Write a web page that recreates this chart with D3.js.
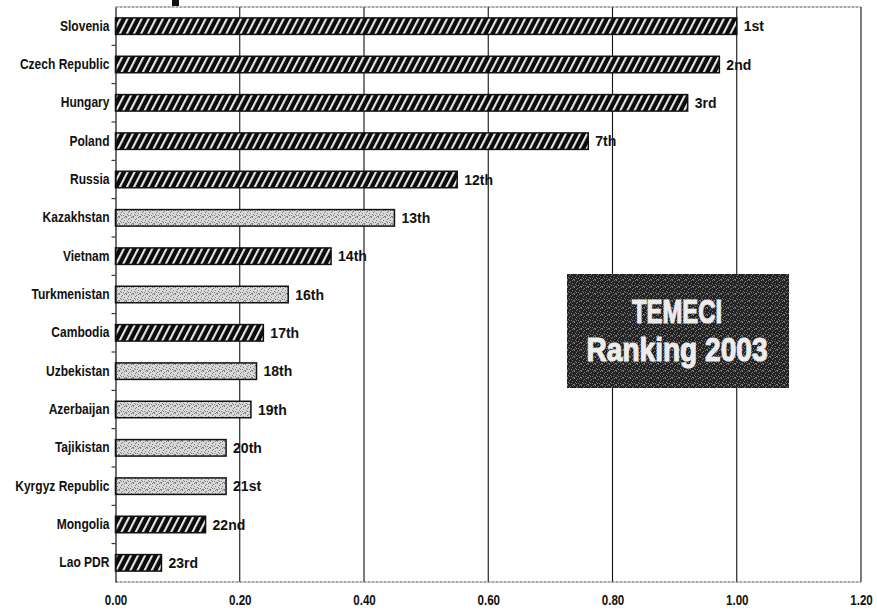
<!DOCTYPE html>
<html>
<head>
<meta charset="utf-8">
<script src="https://cdn.jsdelivr.net/npm/d3@7"></script>
<style>
  html, body { margin: 0; padding: 0; background: #fff; }
  svg { display: block; }
  .cat text { font-family: "Liberation Sans", Arial, sans-serif; font-weight: bold; font-size: 14px; fill: #111; }
  .xaxis text { font-family: "Liberation Sans", Arial, sans-serif; font-weight: bold; font-size: 14.5px; fill: #111; }
  .rank { font-family: "Liberation Sans", Arial, sans-serif; font-weight: bold; font-size: 14px; fill: #111; }
  .badge { font-family: "Liberation Sans", Arial, sans-serif; font-weight: bold; fill: #ececec; stroke: #ececec; stroke-width: 1.2px; }
</style>
</head>
<body>
<svg id="chart" width="877" height="611"></svg>
<script>
// Countries, index scores and ranking labels (TEMECI 2003)
const countries = ["Slovenia", "Czech Republic", "Hungary", "Poland", "Russia", "Kazakhstan",
  "Vietnam", "Turkmenistan", "Cambodia", "Uzbekistan", "Azerbaijan", "Tajikistan",
  "Kyrgyz Republic", "Mongolia", "Lao PDR"];
const scores = [1.00, 0.972, 0.921, 0.761, 0.550, 0.449, 0.347, 0.278, 0.238, 0.227, 0.218,
  0.178, 0.178, 0.145, 0.074];
const ranks = ["1st", "2nd", "3rd", "7th", "12th", "13th", "14th", "16th", "17th", "18th",
  "19th", "20th", "21st", "22nd", "23rd"];
// "h" = hatched (reform group), "s" = stippled (CIS group)
const groups = ["h", "h", "h", "h", "h", "s", "h", "s", "h", "s", "s", "s", "s", "h", "h"];
const xTicks = [0, 0.2, 0.4, 0.6, 0.8, 1.0, 1.2];
const badgeLines = ["TEMECI", "Ranking 2003"];

const rows = countries.map((c, i) => ({ country: c, score: scores[i], rank: ranks[i], group: groups[i] }));

const svg = d3.select("#chart");
const plot = { left: 115.5, right: 861, top: 7, bottom: 582 };

const x = d3.scaleLinear().domain([0, 1.2]).range([plot.left, plot.right]);
const y = d3.scaleBand().domain(countries).range([plot.top, plot.bottom]).paddingInner(0.57).paddingOuter(0.285);

// ---- fill patterns ----
const defs = svg.append("defs");

const hatch = defs.append("pattern").attr("id", "hatch")
  .attr("patternUnits", "userSpaceOnUse").attr("width", 7.1).attr("height", 20)
  .attr("patternTransform", "skewX(-27)");
hatch.append("rect").attr("width", 7.1).attr("height", 20).attr("fill", "#0c0c0c");
hatch.append("rect").attr("x", 1).attr("width", 2.2).attr("height", 20).attr("fill", "#f4f4f4");

// small grain tile built from fixed dot offsets
function grain(id, bg, dot, dots, size) {
  const p = defs.append("pattern").attr("id", id)
    .attr("patternUnits", "userSpaceOnUse").attr("width", size).attr("height", size);
  p.append("rect").attr("width", size).attr("height", size).attr("fill", bg);
  p.selectAll("rect.d").data(dots).join("rect").attr("class", "d")
    .attr("x", d => d[0]).attr("y", d => d[1]).attr("width", 1).attr("height", 1).attr("fill", dot);
}
const grainDots = [[0, 0], [3, 1], [5, 3], [1, 4], [4, 5], [2, 2], [6, 6], [0, 6], [5, 0], [2, 5]];
grain("stipple", "#d8d8d8", "#7e7e7e", grainDots, 7);
grain("boxgrain", "#232323", "#7a7a7a", grainDots, 7);

// ---- gridlines ----
svg.append("g").selectAll("line").data(xTicks.filter(d => d > 0)).join("line")
  .attr("x1", d => x(d)).attr("x2", d => x(d))
  .attr("y1", plot.top).attr("y2", plot.bottom)
  .attr("stroke", "#111").attr("stroke-width", 1.1);

// top and bottom frame lines
[plot.top, plot.bottom].forEach(yy => {
  svg.append("line").attr("x1", plot.left).attr("x2", plot.right)
    .attr("y1", yy).attr("y2", yy)
    .attr("stroke", "#555").attr("stroke-width", 1).attr("stroke-dasharray", "3,1");
});
svg.append("rect").attr("x", 172).attr("y", 0).attr("width", 7).attr("height", 6).attr("fill", "#111");

// ---- bars ----
svg.append("g").selectAll("rect").data(rows).join("rect")
  .attr("x", x(0)).attr("y", d => y(d.country))
  .attr("width", d => x(d.score) - x(0)).attr("height", y.bandwidth())
  .attr("fill", d => d.group === "h" ? "url(#hatch)" : "url(#stipple)")
  .attr("stroke", "#111").attr("stroke-width", 1.5);

// rank labels
svg.append("g").selectAll("text").data(rows).join("text")
  .attr("class", "rank")
  .attr("x", d => x(d.score) + 7)
  .attr("y", d => y(d.country) + y.bandwidth() / 2)
  .attr("dy", "0.36em")
  .text(d => d.rank);

// ---- category axis (condensed labels) ----
const yAxis = svg.append("g").attr("class", "cat")
  .attr("transform", `translate(${plot.left},0)`)
  .call(d3.axisLeft(y).tickSize(0).tickPadding(7));
yAxis.select(".domain").attr("stroke", "#111").attr("stroke-width", 1.2);
yAxis.selectAll(".tick text").attr("transform", "scale(0.86,1)");
// boundary ticks between categories
const bounds = d3.range(1, countries.length).map(i => plot.top + i * y.step());
yAxis.selectAll("line.bound").data(bounds).join("line").attr("class", "bound")
  .attr("x1", -4).attr("x2", 0).attr("y1", d => d).attr("y2", d => d)
  .attr("stroke", "#111");

// ---- value axis labels ----
const xAxis = svg.append("g").attr("class", "xaxis")
  .attr("transform", `translate(0,${plot.bottom})`)
  .call(d3.axisBottom(x).tickValues(xTicks).tickFormat(d3.format(".2f")).tickSize(0).tickPadding(13));
xAxis.select(".domain").remove();
xAxis.selectAll(".tick text").attr("transform", "scale(0.8,1)");

// ---- badge ----
const badge = svg.append("g");
badge.append("rect").attr("x", 567).attr("y", 274).attr("width", 222).attr("height", 114)
  .attr("fill", "url(#boxgrain)");
badge.selectAll("text").data(badgeLines).join("text")
  .attr("class", "badge")
  .attr("x", 677)
  .attr("y", (d, i) => i === 0 ? 323 : 361)
  .attr("text-anchor", "middle")
  .attr("font-size", 34)
  .attr("textLength", (d, i) => i === 0 ? 90 : 181)
  .attr("lengthAdjust", "spacingAndGlyphs")
  .text(d => d);
</script>
</body>
</html>
